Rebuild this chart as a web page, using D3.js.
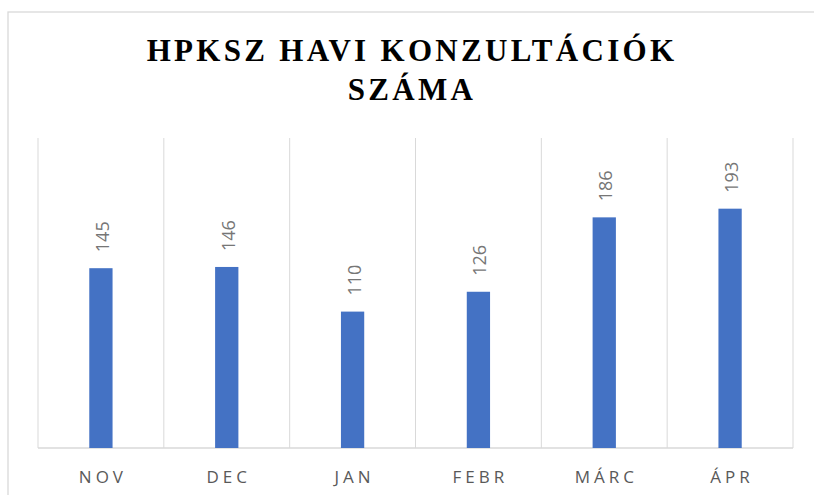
<!DOCTYPE html>
<html>
<head>
<meta charset="utf-8">
<script src="https://cdn.jsdelivr.net/npm/d3@7"></script>
<style>
html,body{margin:0;padding:0;background:#fff;overflow:hidden;}
svg{display:block;}
</style>
</head>
<body>
<svg id="chart" width="814" height="495"></svg>
<script>
const categories = ["NOV", "DEC", "JAN", "FEBR", "MÁRC", "ÁPR"];
const values = [145, 146, 110, 126, 186, 193];
const titleLines = ["HPKSZ HAVI KONZULTÁCIÓK", "SZÁMA"];
const yMax = 250;

const svg = d3.select("#chart");
const W = 814, H = 495;
const plot = {left: 38, right: 793, top: 138, bottom: 448};

svg.append("rect").attr("x", 8).attr("y", 12).attr("width", 830).attr("height", 520)
  .attr("fill", "#fff").attr("stroke", "#d9d9d9").attr("stroke-width", 1.3);

const x = d3.scaleBand().domain(categories).range([plot.left, plot.right]).padding(0);
const y = d3.scaleLinear().domain([0, yMax]).range([plot.bottom, plot.top]);

// vertical gridlines at category boundaries
const bounds = categories.map(c => x(c)).concat([plot.right]);
svg.append("g").selectAll("line").data(bounds).join("line")
  .attr("x1", d => d).attr("x2", d => d)
  .attr("y1", plot.top).attr("y2", plot.bottom)
  .attr("stroke", "#d9d9d9").attr("stroke-width", 1);

// baseline
svg.append("line").attr("x1", plot.left).attr("x2", plot.right)
  .attr("y1", y(0)).attr("y2", y(0)).attr("stroke", "#d9d9d9").attr("stroke-width", 1.3);

const bw = x.bandwidth() * 0.185;
svg.append("g").selectAll("rect").data(values).join("rect")
  .attr("x", (d, i) => x(categories[i]) + x.bandwidth() / 2 - bw / 2)
  .attr("width", bw)
  .attr("y", d => y(d))
  .attr("height", d => y(0) - y(d))
  .attr("fill", "#4472c4");

// data labels (rotated)
svg.append("g").selectAll("text").data(values).join("text")
  .attr("transform", (d, i) => `translate(${x(categories[i]) + x.bandwidth() / 2 + 1},${y(d) - 16}) rotate(-90)`)
  .attr("dominant-baseline", "central")
  .attr("text-anchor", "start")
  .attr("font-family", "Open Sans, sans-serif")
  .attr("font-size", 18)
  .attr("fill", "#767676")
  .text(d => d);

// category axis labels
const xAxis = d3.axisBottom(x).tickSize(0).tickPadding(0);
const gx = svg.append("g").attr("transform", `translate(0,${plot.bottom})`).call(xAxis);
gx.select(".domain").remove();
gx.selectAll("text")
  .attr("y", 35).attr("dy", 0)
  .attr("font-family", "Open Sans, sans-serif")
  .attr("font-size", 17)
  .attr("letter-spacing", "4px")
  .attr("dx", "2px")
  .attr("fill", "#595959");

// title
svg.append("g").selectAll("text").data(titleLines).join("text")
  .attr("x", 412)
  .attr("y", (d, i) => 61 + i * 39)
  .attr("text-anchor", "middle")
  .attr("font-family", "Liberation Serif, Times New Roman, serif")
  .attr("font-weight", "bold")
  .attr("font-size", 31)
  .attr("letter-spacing", "3.3px")
  .attr("fill", "#000")
  .text(d => d);
</script>
</body>
</html>
